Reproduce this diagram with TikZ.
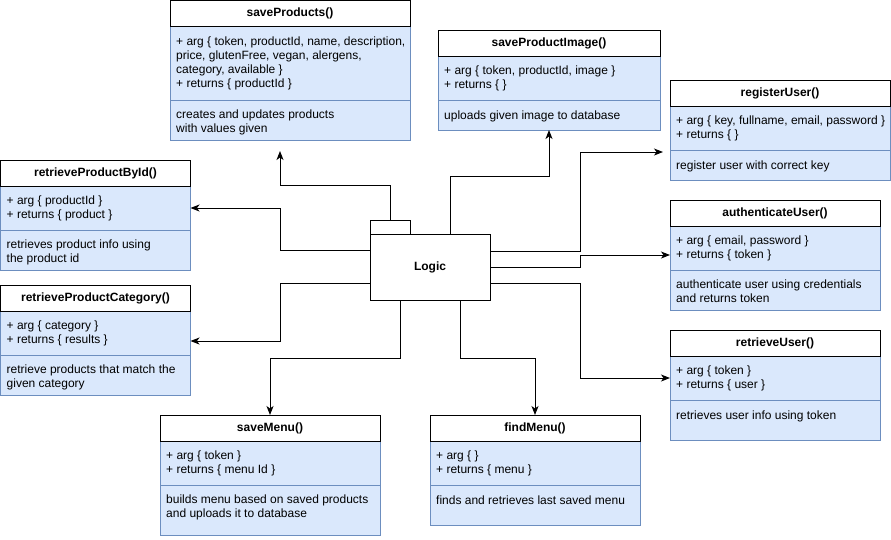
\documentclass[tikz,border=0pt]{standalone}
\usepackage{fontspec}
\setmainfont{Liberation Sans}
\usetikzlibrary{positioning,arrows.meta}
\definecolor{classfill}{HTML}{DAE8FC}
\definecolor{classline}{HTML}{6C8EBF}
\tikzset{
  head/.style={draw, fill=white, line width=1pt, minimum height=26pt, inner sep=0pt, outer sep=0pt, font=\fontsize{12}{14}\selectfont\bfseries},
  sect/.style={draw=classline, fill=classfill, line width=1pt, inner sep=0pt, outer sep=0pt},
  txt/.style={inner sep=0pt, align=left, font=\fontsize{12}{14}\selectfont, execute at begin node=\strut},
  arr/.style={line width=1pt, -{Stealth[length=9pt,width=7pt,inset=2.5pt]}}
}
\begin{document}
\begin{tikzpicture}[x=1pt,y=-1pt]
\useasboundingbox (0,0) rectangle (891,539);
% saveProducts
\node[sect, minimum width=240pt, minimum height=74pt, anchor=north west] (spArg) at (170,26) {};
\node[sect, minimum width=240pt, minimum height=40pt, below=0pt of spArg] (spDo) {};
\node[head, minimum width=240pt, above=0pt of spArg] (sp) {saveProducts()};
\node[txt, below right=11pt and 6pt of spArg.north west] (spArgT) {+ arg \{ token, productId, name, description,\\price, glutenFree, vegan, alergens,\\category, available \}\\+ returns \{ productId \}};
\node[txt, below right=9.5pt and 6pt of spDo.north west] (spDoT) {creates and updates products\\with values given};
% saveProductImage
\node[sect, minimum width=222pt, minimum height=44pt, anchor=north west] (spiArg) at (438,56) {};
\node[sect, minimum width=222pt, minimum height=30pt, below=0pt of spiArg] (spiDo) {};
\node[head, minimum width=222pt, above=0pt of spiArg] (spi) {saveProductImage()};
\node[txt, below right=9.5pt and 6pt of spiArg.north west] (spiArgT) {+ arg \{ token, productId, image \}\\+ returns \{ \}};
\node[txt, below right=9.5pt and 6pt of spiDo.north west] (spiDoT) {uploads given image to database};
% retrieveProductById
\node[sect, minimum width=190pt, minimum height=44pt, anchor=north west] (rpbArg) at (0.5,186) {};
\node[sect, minimum width=190pt, minimum height=40pt, below=0pt of rpbArg] (rpbDo) {};
\node[head, minimum width=190pt, above=0pt of rpbArg] (rpb) {retrieveProductById()};
\node[txt, below right=9.5pt and 6pt of rpbArg.north west] (rpbArgT) {+ arg \{ productId \}\\+ returns \{ product \}};
\node[txt, below right=9.5pt and 6pt of rpbDo.north west] (rpbDoT) {retrieves product info using\\the product id};
% retrieveProductCategory
\node[sect, minimum width=190pt, minimum height=44pt, anchor=north west] (rpcArg) at (0.5,311) {};
\node[sect, minimum width=190pt, minimum height=40pt, below=0pt of rpcArg] (rpcDo) {};
\node[head, minimum width=190pt, above=0pt of rpcArg] (rpc) {retrieveProductCategory()};
\node[txt, below right=9.5pt and 6pt of rpcArg.north west] (rpcArgT) {+ arg \{ category \}\\+ returns \{ results \}};
\node[txt, below right=9.5pt and 6pt of rpcDo.north west] (rpcDoT) {retrieve products that match the\\given category};
% registerUser
\node[sect, minimum width=220pt, minimum height=44pt, anchor=north west] (ruArg) at (670,106) {};
\node[sect, minimum width=220pt, minimum height=30pt, below=0pt of ruArg] (ruDo) {};
\node[head, minimum width=220pt, above=0pt of ruArg] (ru) {registerUser()};
\node[txt, below right=9.5pt and 6pt of ruArg.north west] (ruArgT) {+ arg \{ key, fullname, email, password \}\\+ returns \{ \}};
\node[txt, below right=9.5pt and 6pt of ruDo.north west] (ruDoT) {register user with correct key};
% authenticateUser
\node[sect, minimum width=210pt, minimum height=44pt, anchor=north west] (auArg) at (670,226) {};
\node[sect, minimum width=210pt, minimum height=40pt, below=0pt of auArg] (auDo) {};
\node[head, minimum width=210pt, above=0pt of auArg] (au) {authenticateUser()};
\node[txt, below right=9.5pt and 6pt of auArg.north west] (auArgT) {+ arg \{ email, password \}\\+ returns \{ token \}};
\node[txt, below right=9.5pt and 6pt of auDo.north west] (auDoT) {authenticate user using credentials\\and returns token};
% retrieveUser
\node[sect, minimum width=210pt, minimum height=44pt, anchor=north west] (rtuArg) at (670,356) {};
\node[sect, minimum width=210pt, minimum height=40pt, below=0pt of rtuArg] (rtuDo) {};
\node[head, minimum width=210pt, above=0pt of rtuArg] (rtu) {retrieveUser()};
\node[txt, below right=9.5pt and 6pt of rtuArg.north west] (rtuArgT) {+ arg \{ token \}\\+ returns \{ user \}};
\node[txt, below right=9.5pt and 6pt of rtuDo.north west] (rtuDoT) {retrieves user info using token};
% saveMenu
\node[sect, minimum width=220pt, minimum height=44pt, anchor=north west] (smArg) at (160,441) {};
\node[sect, minimum width=220pt, minimum height=50pt, below=0pt of smArg] (smDo) {};
\node[head, minimum width=220pt, above=0pt of smArg] (sm) {saveMenu()};
\node[txt, below right=9.5pt and 6pt of smArg.north west] (smArgT) {+ arg \{ token \}\\+ returns \{ menu Id \}};
\node[txt, below right=9.5pt and 6pt of smDo.north west] (smDoT) {builds menu based on saved products\\and uploads it to database};
% findMenu
\node[sect, minimum width=210pt, minimum height=44pt, anchor=north west] (fmArg) at (430,441) {};
\node[sect, minimum width=210pt, minimum height=40pt, below=0pt of fmArg] (fmDo) {};
\node[head, minimum width=210pt, above=0pt of fmArg] (fm) {findMenu()};
\node[txt, below right=9.5pt and 6pt of fmArg.north west] (fmArgT) {+ arg \{ \}\\+ returns \{ menu \}};
\node[txt, below right=9.5pt and 6pt of fmDo.north west] (fmDoT) {finds and retrieves last saved menu};
% Logic package
\node[head, minimum width=40pt, minimum height=14pt, anchor=north west] (tab) at (370,220) {};
\node[head, minimum width=120pt, minimum height=66pt, anchor=north west] (logic) at (370,234) {Logic};
\coordinate (spIn) at (280,151);
\coordinate (ruIn) at (663,152);
% connectors
\draw[arr] (tab.north) |- (280,185) -- (spIn);
\draw[arr] ([shift={(0,-16.5)}]logic.west) -| (280,208) -- (rpbArg.east);
\draw[arr] ([shift={(0,16.5)}]logic.west) -| (280,341) -- ([shift={(0,8)}]rpcArg.east);
\draw[arr] ([shift={(-30,0)}]logic.south) |- (270,358) -- (sm.north);
\draw[arr] ([shift={(30,0)}]logic.south) |- (535,358) -- (fm.north);
\draw[arr] ([shift={(20,0)}]logic.north) |- (549,176) -- (spiDo.south);
\draw[arr] ([shift={(0,-16)}]logic.east) -| (580,152) -- (ruIn);
\draw[arr] (logic.east) -| (580,255) -- ([shift={(0,7)}]auArg.west);
\draw[arr] ([shift={(0,16.5)}]logic.east) -| (580,378) -- (rtuArg.west);
\end{tikzpicture}
\end{document}
